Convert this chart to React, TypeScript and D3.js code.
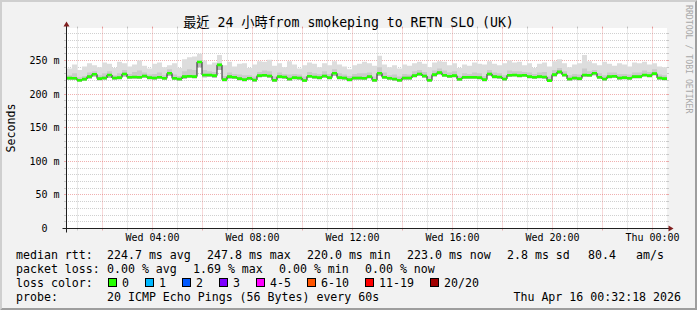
import React from 'react';
import * as d3 from 'd3';

// ---------- data ----------
const START = Date.UTC(2026, 3, 15, 0, 35, 0);
const END = START + 24 * 3600 * 1000;
const STEP = 12 * 60 * 1000;
const Y_MAX = 297.6; // ms

// median rtt per 12-min interval (ms)
const median = [
  223.7, 223.5, 220.5, 222.3, 226, 229.5, 223, 224, 228.5, 224,
  224.5, 230, 225, 225.5, 225, 227, 224.5, 224, 225, 223.5,
  231, 223.5, 222.5, 226, 226.5, 226, 247.8, 228.5, 228.5, 227.5,
  243.5, 221.5, 226, 225, 223, 221.5, 223.5, 221, 227.5, 228,
  227, 220.5, 226, 225.5, 222.5, 224.5, 224, 220.2, 226.5, 225.5,
  224.5, 227, 224.5, 231, 224.5, 224, 221.5, 224, 224, 223.5,
  226, 220.5, 231, 225, 223.5, 222.5, 220.5, 224, 224, 227.5,
  230, 227, 220.5, 229, 232, 228, 226.5, 227.5, 222, 225,
  225, 225, 224.5, 221.5, 230, 226, 225.5, 222.5, 228, 228.5,
  227.5, 228, 226, 225, 226, 225.5, 220.0, 229, 233, 228.5,
  222.5, 224, 223, 228.5, 228, 231, 225, 222.5, 226, 226.5,
  224, 224.5, 223.5, 226, 226, 228.5, 227.5, 230.5, 224, 223.0,
];

// smoke: highest ping per interval (ms)
const pingMax = [
  238, 244, 236, 241, 246, 243, 240, 247, 245, 239,
  248, 246, 241, 244, 250, 242, 238, 245, 247, 240,
  243, 246, 239, 252, 255, 256, 260, 250, 244, 247,
  258, 243, 248, 241, 245, 246, 239, 244, 249, 248,
  251, 242, 246, 240, 249, 244, 238, 243, 247, 245,
  240, 246, 243, 249, 244, 241, 237, 243, 245, 248,
  246, 242, 257, 244, 240, 243, 238, 244, 242, 246,
  248, 245, 240, 247, 249, 248, 243, 246, 239, 244,
  242, 247, 245, 244, 249, 245, 243, 246, 250, 247,
  248, 243, 246, 239, 245, 247, 241, 249, 252, 246,
  240, 244, 246, 258, 249, 246, 243, 248, 245, 242,
  246, 244, 241, 247, 246, 248, 244, 246, 241, 240,
];

// smoke: 19th of 20 pings
const ping19 = [
  228, 231, 225, 227, 232, 234, 228, 231, 234, 228,
  231, 236, 230, 233, 235, 232, 229, 230, 232, 228,
  237, 229, 227, 234, 237, 236, 250, 236, 234, 233,
  246, 227, 232, 230, 229, 228, 228, 226, 233, 235,
  234, 226, 232, 230, 229, 230, 229, 226, 233, 231,
  230, 234, 230, 237, 231, 229, 227, 230, 231, 231,
  232, 226, 240, 232, 228, 229, 226, 230, 229, 234,
  236, 233, 226, 235, 238, 235, 232, 234, 227, 231,
  230, 232, 231, 227, 236, 232, 231, 228, 235, 234,
  234, 233, 232, 230, 232, 233, 226, 236, 239, 234,
  228, 230, 229, 238, 234, 236, 231, 228, 232, 232,
  230, 230, 229, 232, 232, 235, 233, 237, 229, 228,
];

// smoke: 18th of 20 pings
const ping18 = [
  225, 225, 222, 224, 228, 231, 225, 226, 230, 226,
  226, 232, 227, 227, 227, 229, 226, 226, 227, 225,
  233, 225, 224, 228, 228, 228, 249, 230, 230, 229,
  245, 223, 228, 227, 225, 223, 225, 223, 229, 230,
  229, 222, 228, 227, 224, 226, 226, 222, 228, 227,
  226, 229, 226, 233, 226, 226, 223, 226, 226, 225,
  228, 222, 233, 227, 225, 224, 222, 226, 226, 229,
  232, 229, 222, 231, 234, 230, 228, 229, 224, 227,
  227, 227, 226, 223, 232, 228, 227, 224, 230, 230,
  229, 230, 228, 227, 228, 227, 222, 231, 235, 230,
  224, 226, 225, 230, 230, 233, 227, 224, 228, 228,
  226, 226, 225, 228, 228, 230, 229, 232, 226, 225,
];

// smoke: lowest ping per interval (ms)
const pingMin = [
  221.5, 221, 218.5, 220, 223, 226, 220.5, 221.5, 224, 221.5,
  222, 226, 222.5, 223, 222.5, 224, 222, 221.5, 222.5, 221,
  227, 221, 220, 223, 224, 223.5, 240, 225, 225.5, 224.5,
  236, 219, 223, 222.5, 220.5, 219, 221, 218.5, 225, 225.5,
  224.5, 218, 223.5, 223, 220, 222, 221.5, 218, 224, 223,
  222, 224.5, 222, 227, 222, 221.5, 219, 221.5, 221.5, 221,
  223.5, 218, 227, 222.5, 221, 220, 218, 221.5, 221.5, 225,
  227, 224.5, 218, 226, 229, 225.5, 224, 225, 219.5, 222.5,
  222.5, 222.5, 222, 219, 227, 223.5, 223, 220, 225.5, 226,
  225, 225.5, 223.5, 222.5, 223.5, 223, 218, 226, 230, 226,
  220, 221.5, 220.5, 225.5, 225.5, 228, 222.5, 220, 223.5, 224,
  221.5, 222, 221, 223.5, 223.5, 226, 225, 228, 221.5, 220.5,
];

const yMajorTicks = [50, 100, 150, 200, 250];
const yMinorTicks = [10, 20, 30, 40, 60, 70, 80, 90, 110, 120, 130, 140, 160, 170, 180, 190, 210, 220, 230, 240, 260, 270, 280, 290];
const xLabelTimes = [
  Date.UTC(2026, 3, 15, 4), Date.UTC(2026, 3, 15, 8), Date.UTC(2026, 3, 15, 12),
  Date.UTC(2026, 3, 15, 16), Date.UTC(2026, 3, 15, 20), Date.UTC(2026, 3, 16, 0),
];

const titleText = '最近 24 小時from smokeping to RETN SLO (UK)';
const unitText = 'Seconds';
const watermark = 'RRDTOOL / TOBI OETIKER';

const statsRow1 = ['224.7 ms avg', '247.8 ms max', '220.0 ms min', '223.0 ms now', '2.8 ms sd', '80.4', 'am/s'];
const statsRow1X = [107, 207, 307, 407, 507, 588, 636];
const statsRow2 = ['0.00 % avg', '1.69 % max', '0.00 % min', '0.00 % now'];
const statsRow2X = [107, 193, 279, 365];
const lossLabels = ['0', '1', '2', '3', '4-5', '6-10', '11-19', '20/20'];
const lossColors = ['#26ff00', '#00b8ff', '#0059ff', '#7e00ff', '#ff00ff', '#ff5500', '#ff0000', '#a10000'];
const lossBoxX = [108, 145, 182, 219, 256, 307, 365, 430];
const probeText = '20 ICMP Echo Pings (56 Bytes) every 60s';
const dateText = 'Thu Apr 16 00:32:18 2026';

// ---------- chart ----------
const W = 697, H = 310;
const XL = 67, XR = 667, YB = 228.5, YT = 28.5;
const FONT = '"DejaVu Sans Mono", monospace';
const GRID = 'rgba(143,143,143,0.42)';
const MGRID = 'rgba(222,79,79,0.45)';

const crisp = (v: number) => Math.floor(v) + 0.5;

export default function App() {
  const x = d3.scaleUtc().domain([START, END]).range([XL, XR]);
  const y = d3.scaleLinear().domain([0, Y_MAX]).range([YB, YT]);

  const n = median.length;
  const idx = d3.range(n + 1);
  const tAt = (i: number) => (i >= n ? END : START + i * STEP);
  const vAt = (arr: number[], i: number) => arr[Math.min(i, n - 1)];

  const band = (lo: number[], hi: number[]) =>
    d3.area<number>()
      .curve(d3.curveStepAfter)
      .x((i) => x(tAt(i)))
      .y0((i) => y(vAt(lo, i)))
      .y1((i) => y(vAt(hi, i)))(idx) || '';

  const medLine = d3.line<number>()
    .curve(d3.curveStepAfter)
    .x((i) => x(tAt(i)))
    .y((i) => y(vAt(median, i)))(idx) || '';

  const sw = 1.3; // px half-width of loss band
  const lossBand = d3.area<number>()
    .curve(d3.curveStepAfter)
    .x((i) => x(tAt(i)))
    .y0((i) => y(vAt(median, i)) + sw)
    .y1((i) => y(vAt(median, i)) - sw)(idx) || '';

  const hours = d3.utcHour.range(new Date(START), new Date(END + 1));
  const fmtX = d3.utcFormat('%a %H:%M');

  return (
    <svg width={W} height={H} style={{ position: 'absolute', left: 0, top: 0 }} xmlns="http://www.w3.org/2000/svg">
      <rect x={0} y={0} width={W} height={H} fill="#f2f2f2" />
      <polygon points={`0,${H} 2,${H - 2} 2,2 ${W - 2},2 ${W},0 0,0`} fill="#cfcfcf" />
      <polygon points={`2,${H - 2} ${W - 2},${H - 2} ${W - 2},2 ${W},0 ${W},${H} 0,${H}`} fill="#9e9e9e" />
      <rect x={XL} y={28} width={XR - XL} height={200} fill="#ffffff" />

      {/* horizontal grid */}
      {yMinorTicks.map((v) => {
        const yy = crisp(y(v));
        return (
          <g key={'hm' + v}>
            <line x1={XL - 3} x2={XL - 1} y1={yy} y2={yy} stroke={GRID} />
            <line x1={XR} x2={XR + 2} y1={yy} y2={yy} stroke={GRID} />
            <line x1={XL - 1} x2={XR + 1} y1={yy} y2={yy} stroke={GRID} strokeDasharray="1,1" />
          </g>
        );
      })}
      {yMajorTicks.map((v) => {
        const yy = crisp(y(v));
        return (
          <g key={'hM' + v}>
            <line x1={XL - 3} x2={XL - 1} y1={yy} y2={yy} stroke={MGRID} />
            <line x1={XR} x2={XR + 2} y1={yy} y2={yy} stroke={MGRID} />
            <line x1={XL - 1} x2={XR + 1} y1={yy} y2={yy} stroke={MGRID} strokeDasharray="1,1" />
          </g>
        );
      })}
      {/* vertical grid */}
      {hours.map((h) => {
        const xx = crisp(x(h));
        const major = h.getUTCHours() % 2 === 0;
        const c = major ? MGRID : GRID;
        return (
          <g key={'v' + +h}>
            <line x1={xx} x2={xx} y1={YB} y2={YB + 2} stroke={c} />
            <line x1={xx} x2={xx} y1={YT - 2} y2={YT} stroke={c} />
            <line x1={xx} x2={xx} y1={YT - 1} y2={YB} stroke={c} strokeDasharray="1,1" />
          </g>
        );
      })}

      {/* smoke */}
      <path d={band(pingMin, pingMax)} fill="#dddddd" />
      <path d={band(pingMin, ping19)} fill="#cacaca" />
      <path d={band(pingMin, ping18)} fill="#b7b7b7" />
      {/* median line and loss colour band */}
      <path d={medLine} fill="none" stroke="#202020" strokeWidth={1} />
      <path d={lossBand} fill={lossColors[0]} />

      {/* axes */}
      <line x1={XL - 4.5} x2={XR + 3.5} y1={YB} y2={YB} stroke="#1f1f1f" />
      <line x1={XL - 0.5} x2={XL - 0.5} y1={YB + 4} y2={YT - 4} stroke="#1f1f1f" />
      <polygon points={`${XR + 1.5},${YB - 3} ${XR + 1.5},${YB + 3} ${XR + 6.5},${YB}`} fill="#801f1f" />
      <polygon points={`${XL - 3.5},${YT - 2} ${XL + 2.5},${YT - 2} ${XL - 0.5},${YT - 7}`} fill="#801f1f" />

      {/* y labels */}
      <g fontFamily={FONT} fontSize={10} fill="#000">
        <text x={47.5} y={crisp(y(0)) + 3.8} textAnchor="end">0</text>
        {yMajorTicks.map((v) => (
          <text key={'yl' + v} x={59.5} y={crisp(y(v)) + 3.8} textAnchor="end">{`${v} m`}</text>
        ))}
        {xLabelTimes.map((t) => (
          <text key={'xl' + t} x={crisp(x(t))} y={241} textAnchor="middle">{fmtX(new Date(t))}</text>
        ))}
      </g>

      {/* title, unit, watermark */}
      <text x={348.5} y={27} textAnchor="middle" fontFamily={`${FONT}, "Noto Sans CJK TC"`} fontSize={13.2} fill="#000">{titleText}</text>
      <text transform={`translate(14.5,128) rotate(-90)`} textAnchor="middle" fontFamily={FONT} fontSize={11.6} fill="#000">{unitText}</text>
      <text transform={`translate(685.5,5) rotate(90)`} textAnchor="start" fontFamily={FONT} fontSize={8.2} fill="#a8a8a8">{watermark}</text>

      {/* legend */}
      <g fontFamily={FONT} fontSize={11.6} fill="#000">
        <text x={16} y={258.5}>median rtt:</text>
        {statsRow1.map((s, i) => <text key={'s1' + i} x={statsRow1X[i]} y={258.5}>{s}</text>)}
        <text x={16} y={272.5}>packet loss:</text>
        {statsRow2.map((s, i) => <text key={'s2' + i} x={statsRow2X[i]} y={272.5}>{s}</text>)}
        <text x={16} y={286.5}>loss color:</text>
        {lossLabels.map((l, i) => (
          <g key={'lc' + i}>
            <rect x={lossBoxX[i] + 0.5} y={278.5} width={8} height={8} fill={lossColors[i]} stroke="#000" strokeWidth={1} />
            <text x={lossBoxX[i] + 14} y={286.5}>{l}</text>
          </g>
        ))}
        <text x={16} y={300.5}>probe:</text>
        <text x={107} y={300.5}>{probeText}</text>
        <text x={681} y={300.5} textAnchor="end">{dateText}</text>
      </g>
    </svg>
  );
}
